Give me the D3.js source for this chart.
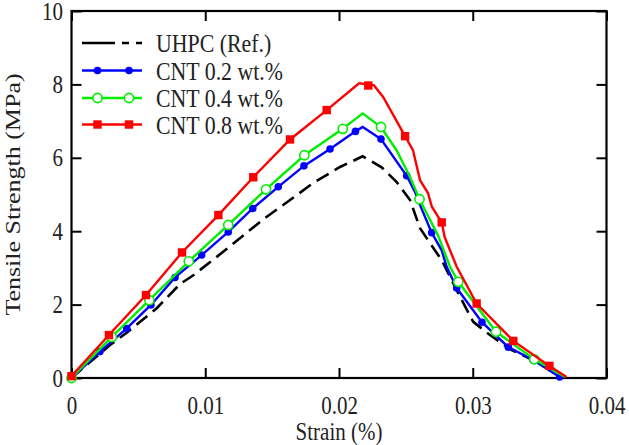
<!DOCTYPE html>
<html>
<head>
<meta charset="utf-8">
<script src="https://cdn.jsdelivr.net/npm/d3@7"></script>
<style>
  body { margin: 0; background: #fff; }
  text { font-family: "Liberation Serif", "Times New Roman", serif; }
</style>
</head>
<body>
<div id="chart"></div>
<script>
// strain (%) , tensile strength (MPa)
var uhpcLine = [[0,0],[0.00288,0.90],[0.00422,1.26],[0.00637,1.90],[0.00811,2.56],[0.00911,2.80],
  [0.01086,3.30],[0.01273,3.85],[0.01447,4.36],[0.01634,4.85],[0.01806,5.31],[0.02008,5.75],
  [0.02177,6.04],[0.02319,5.74],[0.02431,5.34],[0.02531,4.85],[0.02606,4.08],[0.02665,3.76],
  [0.02768,3.21],[0.02905,2.21],[0.03004,1.53],[0.03129,1.17],[0.03291,0.76],[0.0345,0.49],
  [0.036,0.27],[0.03652,0.03]];

var cnt02Line = [[0,0],[0.00213,0.72],[0.00413,1.35],[0.00594,1.99],[0.00774,2.74],[0.00973,3.35],
  [0.01172,3.98],[0.01355,4.62],[0.01546,5.21],[0.01738,5.78],[0.01933,6.24],[0.02123,6.72],
  [0.02177,6.84],[0.02314,6.51],[0.02506,5.51],[0.02568,5.07],[0.02606,4.71],[0.02693,3.96],
  [0.02768,3.48],[0.02805,3.03],[0.0288,2.45],[0.03069,1.52],[0.03266,0.84],[0.03451,0.49],[0.0365,0.03]];
var cnt02Marks = [[0,0],[0.00213,0.72],[0.00413,1.35],[0.00594,1.99],[0.00774,2.74],[0.00973,3.35],
  [0.01172,3.98],[0.01355,4.62],[0.01546,5.21],[0.01738,5.78],[0.01933,6.24],[0.02123,6.72],
  [0.02314,6.51],[0.02506,5.51],[0.02693,3.96],[0.0288,2.45],[0.03069,1.52],[0.03266,0.84],
  [0.03451,0.49],[0.0365,0.03]];

var cnt04Line = [[0,0],[0.00301,1.12],[0.00582,2.12],[0.00877,3.18],[0.01172,4.17],[0.01454,5.14],
  [0.01741,6.07],[0.02028,6.79],[0.02177,7.21],[0.02314,6.84],[0.02431,6.20],[0.02531,5.48],
  [0.02602,4.87],[0.02741,3.88],[0.0283,3.03],[0.02892,2.62],[0.03174,1.26],[0.0346,0.51],[0.0369,0.03]];
var cnt04Marks = [[0,0],[0.00301,1.12],[0.00582,2.12],[0.00877,3.18],[0.01172,4.17],[0.01454,5.14],
  [0.01741,6.07],[0.02028,6.79],[0.02314,6.84],[0.02602,4.87],[0.02892,2.62],[0.03174,1.26],[0.0346,0.51]];

var cnt08Line = [[0,0.05],[0.0028,1.17],[0.00557,2.26],[0.00826,3.42],[0.01098,4.44],[0.01359,5.47],
  [0.01634,6.50],[0.01908,7.30],[0.0215,8.03],[0.0222,8.0],[0.0226,7.98],[0.0233,7.66],[0.02494,6.59],
  [0.02553,6.21],[0.02606,5.39],[0.02665,5.04],[0.02695,4.66],[0.02768,4.24],[0.0279,3.84],
  [0.0288,3.03],[0.03029,2.03],[0.03303,1.01],[0.03573,0.33],[0.03702,0.03]];
var cnt08Marks = [[0,0.05],[0.0028,1.17],[0.00557,2.26],[0.00826,3.42],[0.01098,4.44],[0.01359,5.47],
  [0.01634,6.50],[0.01908,7.30],[0.02219,7.97],[0.02494,6.59],[0.02768,4.24],[0.03029,2.03],
  [0.03303,1.01],[0.03573,0.33]];

var legendLabels = ["UHPC (Ref.)", "CNT 0.2 wt.%", "CNT 0.4 wt.%", "CNT 0.8 wt.%"];
var xTicks = [0, 0.01, 0.02, 0.03, 0.04];
var yTicks = [0, 2, 4, 6, 8, 10];

var W = 629, H = 445, SX = 0.84;
var pLeft = 71.5, pRight = 606.5, pTop = 11, pBottom = 378;

var svg = d3.select("#chart").append("svg").attr("width", W).attr("height", H);

var x = d3.scaleLinear().domain([0, 0.04]).range([pLeft, pRight]);
var y = d3.scaleLinear().domain([0, 10]).range([pBottom, pTop]);

var line = d3.line().x(d => x(d[0])).y(d => y(d[1]));

// axes with inward ticks
var gx = svg.append("g").attr("transform", "translate(0," + pBottom + ")")
  .call(d3.axisBottom(x).tickValues(xTicks).tickSizeInner(-10).tickSizeOuter(0).tickPadding(18)
    .tickFormat(d => d === 0 ? "0" : d3.format(".2f")(d)));
var gy = svg.append("g").attr("transform", "translate(" + pLeft + ",0)")
  .call(d3.axisLeft(y).tickValues(yTicks).tickSizeInner(-10).tickSizeOuter(0).tickPadding(10));
var gt = svg.append("g").attr("transform", "translate(0," + pTop + ")")
  .call(d3.axisTop(x).tickValues(xTicks).tickSizeInner(-10).tickSizeOuter(0).tickFormat(""));
var gr = svg.append("g").attr("transform", "translate(" + pRight + ",0)")
  .call(d3.axisRight(y).tickValues(yTicks).tickSizeInner(-10).tickSizeOuter(0).tickFormat(""));

[gx, gy, gt, gr].forEach(function(g) {
  g.select(".domain").remove();
  g.selectAll(".tick line").attr("stroke", "#000").attr("stroke-width", 2);
  g.selectAll(".tick text").attr("fill", "#222").style("font-size", "25px")
    .attr("transform", "scale(" + SX + ",1)");
});

svg.append("rect").attr("x", pLeft).attr("y", pTop)
  .attr("width", pRight - pLeft).attr("height", pBottom - pTop)
  .attr("fill", "none").attr("stroke", "#000").attr("stroke-width", 2.2);

// axis titles
svg.append("text").attr("transform", "translate(" + ((pLeft + pRight) / 2) + ",440) scale(" + SX + ",1)")
  .attr("text-anchor", "middle").attr("fill", "#222").style("font-size", "25px").text("Strain (%)");
svg.append("text").attr("transform", "translate(20," + ((pTop + pBottom) / 2) + ") scale(" + SX + ",1) rotate(-90)")
  .attr("text-anchor", "middle").attr("fill", "#222").style("font-size", "26px").text("Tensile Strength (MPa)");

// series
svg.append("path").datum(uhpcLine).attr("d", line).attr("fill", "none")
  .attr("stroke", "#000").attr("stroke-width", 2.6).attr("stroke-dasharray", "14,7");

svg.append("path").datum(cnt02Line).attr("d", line).attr("fill", "none")
  .attr("stroke", "#0000ff").attr("stroke-width", 2.4);
svg.selectAll(".m02").data(cnt02Marks).enter().append("circle").attr("class", "m02")
  .attr("cx", d => x(d[0])).attr("cy", d => y(d[1])).attr("r", 3.8).attr("fill", "#0000ff");

svg.append("path").datum(cnt04Line).attr("d", line).attr("fill", "none")
  .attr("stroke", "#00ee00").attr("stroke-width", 2.4);
svg.selectAll(".m04").data(cnt04Marks).enter().append("circle").attr("class", "m04")
  .attr("cx", d => x(d[0])).attr("cy", d => y(d[1])).attr("r", 4.6)
  .attr("fill", "#fff").attr("stroke", "#00ee00").attr("stroke-width", 1.6);

svg.append("path").datum(cnt08Line).attr("d", line).attr("fill", "none")
  .attr("stroke", "#ff0000").attr("stroke-width", 2.4);
svg.selectAll(".m08").data(cnt08Marks).enter().append("rect").attr("class", "m08")
  .attr("x", d => x(d[0]) - 4.2).attr("y", d => y(d[1]) - 4.2)
  .attr("width", 8.4).attr("height", 8.4).attr("fill", "#ff0000");

// legend
var legendY = [43, 70.5, 98, 124.5];
var lg = svg.append("g");
lg.append("line").attr("x1", 82).attr("x2", 142).attr("y1", legendY[0]).attr("y2", legendY[0])
  .attr("stroke", "#000").attr("stroke-width", 2.6).attr("stroke-dasharray", "33,7,7,7,7");
lg.append("line").attr("x1", 82).attr("x2", 142).attr("y1", legendY[1]).attr("y2", legendY[1])
  .attr("stroke", "#0000ff").attr("stroke-width", 2.4);
lg.append("line").attr("x1", 82).attr("x2", 142).attr("y1", legendY[2]).attr("y2", legendY[2])
  .attr("stroke", "#00ee00").attr("stroke-width", 2.4);
lg.append("line").attr("x1", 82).attr("x2", 142).attr("y1", legendY[3]).attr("y2", legendY[3])
  .attr("stroke", "#ff0000").attr("stroke-width", 2.4);
[97.5, 129].forEach(function(mx) {
  lg.append("circle").attr("cx", mx).attr("cy", legendY[1]).attr("r", 3.8).attr("fill", "#0000ff");
  lg.append("circle").attr("cx", mx).attr("cy", legendY[2]).attr("r", 4.6)
    .attr("fill", "#fff").attr("stroke", "#00ee00").attr("stroke-width", 1.6);
  lg.append("rect").attr("x", mx - 4.2).attr("y", legendY[3] - 4.2).attr("width", 8.4).attr("height", 8.4)
    .attr("fill", "#ff0000");
});
lg.selectAll(".lt").data(legendLabels).enter().append("text").attr("class", "lt")
  .attr("transform", (d, i) => "translate(156," + (legendY[i] + 9) + ") scale(" + SX + ",1)")
  .attr("fill", "#222").style("font-size", "26px").text(d => d);
</script>
</body>
</html>
